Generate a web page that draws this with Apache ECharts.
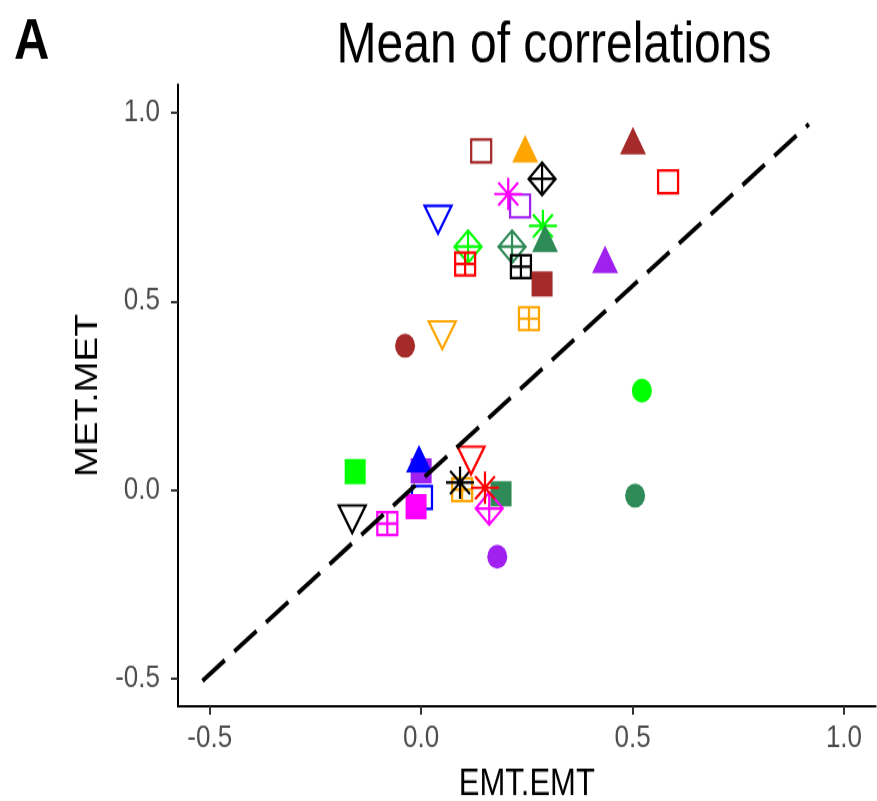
<!DOCTYPE html>
<html>
<head>
<meta charset="utf-8">
<script src="https://cdn.jsdelivr.net/npm/echarts@6/dist/echarts.min.js"></script>
<style>
  html, body { margin: 0; padding: 0; background: #ffffff; }
  #frame { width: 877px; height: 801px; overflow: hidden; background: #ffffff; }
  /* the plot is laid out at 877x668 and stretched vertically to fill the frame */
  #chart { width: 877px; height: 668px; transform: scaleY(1.19910); transform-origin: 0 0; }
</style>
</head>
<body>
<div id="frame"><div id="chart"></div></div>
<script>
// Mean correlation of each comparison: EMT.EMT (x) against MET.MET (y)
const emtValues = [
  0.142, 0.246, 0.501, 0.584, 0.234, 0.206, 0.286, 0.040, 0.288, 0.293,
  0.111, 0.215, 0.104, 0.236, 0.286, 0.435, 0.255, -0.038, 0.050, 0.522,
  0.506,
  -0.156, -0.163, -0.080, 0.000, -0.005, 0.002, -0.012, 0.097, 0.092,
  0.118, 0.189, 0.161, 0.151, 0.180
];
const metValues = [
  0.899, 0.893, 0.914, 0.817, 0.753, 0.785, 0.825, 0.729, 0.700, 0.655,
  0.645, 0.645, 0.599, 0.592, 0.546, 0.599, 0.454, 0.382, 0.422, 0.263,
  -0.016,
  0.048, -0.066, -0.090, 0.050, 0.070, -0.021, -0.045, 0.000, 0.019,
  0.090, -0.011, -0.050, 0.005, -0.178
];
const pointColors = [
  'brown', 'orange', 'brown', 'red', 'purple', 'magenta', 'black', 'blue', 'green', 'seagreen',
  'green', 'seagreen', 'red', 'black', 'brown', 'purple', 'orange', 'brown', 'orange', 'green',
  'seagreen',
  'green', 'black', 'magenta', 'purple', 'blue', 'blue', 'magenta', 'orange', 'black',
  'red', 'seagreen', 'magenta', 'red', 'purple'
];
const pointShapes = [
  'openSquare', 'triangle', 'triangle', 'openSquare', 'openSquare', 'asterisk', 'diamondPlus', 'openTriangleDown', 'asterisk', 'triangle',
  'diamondPlus', 'diamondPlus', 'squarePlus', 'squarePlus', 'square', 'triangle', 'squarePlus', 'circle', 'openTriangleDown', 'circle',
  'circle',
  'square', 'openTriangleDown', 'squarePlus', 'square', 'triangle', 'openSquare', 'square', 'squarePlus', 'asterisk',
  'openTriangleDown', 'square', 'diamondPlus', 'asterisk', 'circle'
];
// reference diagonal (dashed)
const diagonalX = [-0.517, 0.917];
const diagonalY = [-0.507, 0.970];
const tickValues = [-0.5, 0.0, 0.5, 1.0];

const palette = {
  brown: '#A52A2A', orange: '#FFA500', red: '#FF0000', purple: '#A020F0',
  magenta: '#FF00FF', black: '#000000', blue: '#0000FF', green: '#00FF00',
  seagreen: '#2E8B57'
};

const shapeStyles = {
  circle:   { symbol: 'circle', size: [20, 20], filled: true },
  square:   { symbol: 'rect', size: [21, 21], filled: true },
  triangle: { symbol: 'triangle', size: [26, 23], filled: true, offset: [0, -23 / 6] },
  openSquare: { symbol: 'path://M0,0L20,0L20,20L0,20Z', size: [20, 19] },
  openTriangleDown: { symbol: 'path://M0,0L20,0L10,17.32Z', size: [27, 23], offset: [0, 23 / 6] },
  diamondPlus: { symbol: 'path://M10,0L20,10L10,20L0,10Z M10,0L10,20 M0,10L20,10', size: [27, 27] },
  squarePlus: { symbol: 'path://M0,0L20,0L20,20L0,20Z M10,0L10,20 M0,10L20,10', size: [20, 19] },
  asterisk: { symbol: 'path://M10,0L10,20 M0,10L20,10 M2.93,2.93L17.07,17.07 M2.93,17.07L17.07,2.93', size: [28, 27] }
};

const points = emtValues.map(function (x, i) {
  const s = shapeStyles[pointShapes[i]];
  const c = palette[pointColors[i]];
  return {
    value: [x, metValues[i]],
    symbol: s.symbol,
    symbolSize: s.size,
    symbolOffset: s.offset || [0, 0],
    itemStyle: s.filled
      ? { color: c, borderWidth: 0, opacity: 1 }
      : { color: 'rgba(0,0,0,0)', borderColor: c, borderWidth: 2.2, opacity: 1 }
  };
});

const FONT = '"Liberation Sans", Arial, Helvetica, sans-serif';

function axisCommon() {
  return {
    type: 'value',
    min: -0.575,
    max: 1.075,
    splitLine: { show: false },
    axisLine: { show: true, onZero: false, lineStyle: { color: '#000000', width: 2 } },
    axisTick: { show: true, customValues: tickValues, length: 7, lineStyle: { color: '#333333', width: 2 } },
    axisLabel: {
      customValues: tickValues,
      formatter: function (v) { return v.toFixed(1); },
      color: '#4D4D4D', fontSize: 26, fontFamily: FONT
    },
    nameLocation: 'middle',
    nameTextStyle: { color: '#000000', fontSize: 31, fontFamily: FONT }
  };
}

const xAxis = Object.assign(axisCommon(), { name: 'EMT.EMT', nameGap: 50 });
xAxis.axisLabel.margin = 14;
const yAxis = Object.assign(axisCommon(), { name: 'MET.MET', nameGap: 67, nameRotate: 90 });
yAxis.axisLabel.margin = 18;

const chart = echarts.init(document.getElementById('chart'), null, { renderer: 'canvas' });
chart.setOption({
  animation: false,
  backgroundColor: '#ffffff',
  grid: { left: 178, right: 1.3, top: 70.6, bottom: 79, containLabel: false, outerBoundsMode: 'none' },
  xAxis: xAxis,
  yAxis: yAxis,
  graphic: [
    { type: 'text', left: 14, top: 11,
      style: { text: 'A', fontSize: 49, fontWeight: 'bold', fontFamily: FONT, fill: '#000000' } },
    { type: 'text', x: 554, y: 15,
      style: { text: 'Mean of correlations', fontSize: 48, fontFamily: FONT, fill: '#000000', align: 'center', verticalAlign: 'top' } }
  ],
  series: [
    {
      type: 'scatter',
      data: points,
      z: 2,
      emphasis: { disabled: true },
      silent: true
    },
    {
      type: 'line',
      data: diagonalX.map(function (x, i) { return [x, diagonalY[i]]; }),
      showSymbol: false,
      z: 3,
      silent: true,
      lineStyle: { color: '#000000', width: 3.8, type: [28, 12], cap: 'butt', opacity: 1 }
    }
  ]
});
</script>
</body>
</html>
